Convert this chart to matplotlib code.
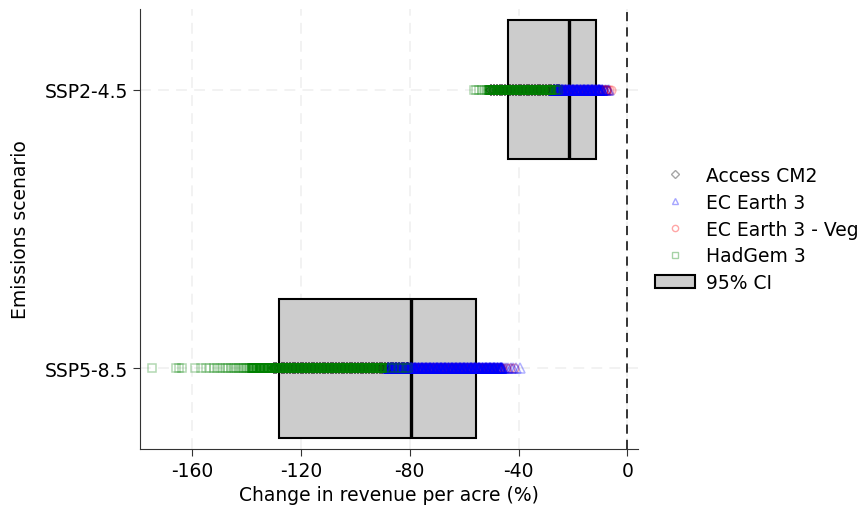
import matplotlib
matplotlib.use("Agg")
import numpy as np
import matplotlib.pyplot as plt
from matplotlib.lines import Line2D
from matplotlib.patches import Patch

plt.rcParams["axes.unicode_minus"] = False

scenarios = ["SSP5-8.5", "SSP2-4.5"]

# 95% CI and median per scenario (same order as scenarios)
ci_low = [-128.0, -44.0]
ci_high = [-55.8, -11.7]
ci_median = [-79.6, -21.3]

# model runs. "tail" = the few isolated runs,
# "core" = the crowded part, where each value stands for several runs
core_repeats = 4

# SSP5-8.5
access_ssp5_tail = []
access_ssp5_core = [-130, -129, -128, -127, -126, -125, -124, -123, -122, -121, -120, -119,
                    -118, -117, -116, -115, -114, -113, -112, -111, -110, -109, -108, -107,
                    -106, -105, -104, -103, -102, -101, -100, -99, -98, -97, -96, -95, -94,
                    -93, -92, -91, -90, -89, -88, -87, -86, -85, -84, -83, -82, -81, -80.5]
ecveg_ssp5_tail = [-46, -44.5, -43, -41.5]
ecveg_ssp5_core = [-85, -84, -83, -82, -81, -80, -79, -78, -77, -76, -75, -74, -73, -72, -71,
                   -70, -69, -68, -67, -66, -65, -64, -63, -62, -61, -60, -59, -58, -57, -56,
                   -55, -54, -53, -52, -51, -50, -49, -48, -47]
ecearth_ssp5_tail = [-45.5, -44.6, -43.8, -42.8, -42, -41, -39.4]
ecearth_ssp5_core = [-88, -87.5, -87, -86.5, -86, -85.5, -85, -84.5, -84, -83.5, -83, -82.5,
                     -82, -81.5, -81, -80.5, -80, -79.5, -79, -78.5, -78, -77.5, -77, -76.5,
                     -76, -75.5, -75, -74.5, -74, -73.5, -73, -72.5, -72, -71.5, -71, -70.5,
                     -70, -69.5, -69, -68.5, -68, -67.5, -67, -66.5, -66, -65.5, -65, -64.5,
                     -64, -63.5, -63, -62.5, -62, -61.5, -61, -60.5, -60, -59.5, -59, -58.5,
                     -58, -57.5, -57, -56.5, -56, -55.5, -55, -54.5, -54, -53.5, -53, -52.5,
                     -52, -51.5, -51, -50.5, -50, -49.5, -49, -48.5, -48, -47.5, -47, -46.5,
                     -46]
hadgem_ssp5_tail = [-174.5, -165.9, -164.8, -163.5, -158.8, -156.5, -154.8, -153.2, -151.9,
                    -150.6, -149.5, -148.4, -147.5, -146.6, -145.8, -145, -144.2, -143.5,
                    -142.8, -142.1, -141.4, -140.8, -140.2, -139.6, -139, -138.5,
                    -89, -87.2, -85.6, -84.1, -82.7, -81.5, -80.7]
hadgem_ssp5_core = [-138, -137.5, -137, -136.5, -136, -135.5, -135, -134.5, -134, -133.5, -133,
                    -132.5, -132, -131.5, -131, -130.5, -130, -129.5, -129, -128.5, -128,
                    -127.5, -127, -126.5, -126, -125.5, -125, -124.5, -124, -123.5, -123,
                    -122.5, -122, -121.5, -121, -120.5, -120, -119.5, -119, -118.5, -118,
                    -117.5, -117, -116.5, -116, -115.5, -115, -114.5, -114, -113.5, -113,
                    -112.5, -112, -111.5, -111, -110.5, -110, -109.5, -109, -108.5, -108,
                    -107.5, -107, -106.5, -106, -105.5, -105, -104.5, -104, -103.5, -103,
                    -102.5, -102, -101.5, -101, -100.5, -100, -99.5, -99, -98.5, -98, -97.5,
                    -97, -96.5, -96, -95.5, -95, -94.5, -94, -93.5, -93, -92.5, -92, -91.5,
                    -91, -90.5, -90]

# SSP2-4.5
access_ssp2_tail = []
access_ssp2_core = [-50, -49, -48, -47, -46, -45, -44, -43, -42, -41, -40, -39, -38, -37, -36,
                    -35, -34, -33, -32, -31, -30, -29, -28, -27, -26, -25]
ecveg_ssp2_tail = [-7.5, -6.8, -6.1]
ecveg_ssp2_core = [-25, -24, -23, -22, -21, -20, -19, -18, -17, -16, -15, -14, -13, -12, -11,
                   -10, -9, -8]
ecearth_ssp2_tail = [-9, -8.4, -7.8, -7.2, -6.7]
ecearth_ssp2_core = [-27, -26.5, -26, -25.5, -25, -24.5, -24, -23.5, -23, -22.5, -22, -21.5,
                     -21, -20.5, -20, -19.5, -19, -18.5, -18, -17.5, -17, -16.5, -16, -15.5,
                     -15, -14.5, -14, -13.5, -13, -12.5, -12, -11.5, -11, -10.5, -10, -9.5]
hadgem_ssp2_tail = [-56.5, -55.6, -54.4, -53.3, -52.4, -51.7, -27.6, -26.8, -26.1, -25.6]
hadgem_ssp2_core = [-51, -50.5, -50, -49.5, -49, -48.5, -48, -47.5, -47, -46.5, -46, -45.5, -45,
                    -44.5, -44, -43.5, -43, -42.5, -42, -41.5, -41, -40.5, -40, -39.5, -39,
                    -38.5, -38, -37.5, -37, -36.5, -36, -35.5, -35, -34.5, -34, -33.5, -33,
                    -32.5, -32, -31.5, -31, -30.5, -30, -29.5, -29, -28.5, -28]

# drawing order: grey first, green on top
models = [
    ("Access CM2", [(access_ssp5_tail, access_ssp5_core), (access_ssp2_tail, access_ssp2_core)],
     "black", "D", 5.4),
    ("EC Earth 3 - Veg", [(ecveg_ssp5_tail, ecveg_ssp5_core), (ecveg_ssp2_tail, ecveg_ssp2_core)],
     "red", "o", 6.2),
    ("EC Earth 3", [(ecearth_ssp5_tail, ecearth_ssp5_core), (ecearth_ssp2_tail, ecearth_ssp2_core)],
     "blue", "^", 6.6),
    ("HadGem 3", [(hadgem_ssp5_tail, hadgem_ssp5_core), (hadgem_ssp2_tail, hadgem_ssp2_core)],
     "green", "s", 5.2),
]

fig = plt.figure(figsize=(8.65, 5.1), dpi=100)
ax = fig.add_axes([0.162, 0.118, 0.576, 0.862])

ax.barh(range(len(scenarios)), np.array(ci_high) - np.array(ci_low), left=ci_low, height=0.5,
        color="#cccccc", edgecolor="black", linewidth=1.5, zorder=2)
for i, m in enumerate(ci_median):
    ax.vlines(m, i - 0.25, i + 0.25, color="black", linewidth=2.4, zorder=2.5)

for name, per_scen, col, mk, ms in models:
    for yi, (tail, core) in enumerate(per_scen):
        vals = np.concatenate([np.array(tail, dtype=float), np.repeat(core, core_repeats)])
        ax.plot(vals, np.full(len(vals), yi), linestyle="none", marker=mk, markersize=ms,
                markerfacecolor="none", markeredgecolor=col, markeredgewidth=1.1,
                alpha=0.3, zorder=3)

ax.axvline(0, color="black", linestyle=(0, (6, 4)), linewidth=1.1, zorder=1)

ax.set_xlim(-179, 4)
ax.set_ylim(-0.29, 1.29)
ax.set_xticks([-160, -120, -80, -40, 0])
ax.set_yticks(range(len(scenarios)))
ax.set_yticklabels(scenarios)
ax.tick_params(labelsize=13.5, direction="out", length=5, color="#333333")
ax.set_xlabel("Change in revenue per acre (%)", fontsize=13.5)
ax.set_ylabel("Emissions scenario", fontsize=13.5, labelpad=11)
ax.grid(True, color="#f1f1f1", linestyle=(0, (6, 4)), linewidth=1.3)
ax.set_axisbelow(True)
for s in ["top", "right"]:
    ax.spines[s].set_visible(False)
for s in ["left", "bottom"]:
    ax.spines[s].set_color("#333333")

handles = [
    Line2D([], [], linestyle="none", marker="D", markersize=4, markerfacecolor="none",
           markeredgecolor="black", alpha=0.35, label="Access CM2"),
    Line2D([], [], linestyle="none", marker="^", markersize=5, markerfacecolor="none",
           markeredgecolor="blue", alpha=0.35, label="EC Earth 3"),
    Line2D([], [], linestyle="none", marker="o", markersize=4.5, markerfacecolor="none",
           markeredgecolor="red", alpha=0.35, label="EC Earth 3 - Veg"),
    Line2D([], [], linestyle="none", marker="s", markersize=4.5, markerfacecolor="none",
           markeredgecolor="green", alpha=0.35, label="HadGem 3"),
    Patch(facecolor="#cccccc", edgecolor="black", linewidth=1.5, label="95% CI"),
]
ax.legend(handles=handles, loc="center left", bbox_to_anchor=(1.0, 0.5), frameon=False,
          fontsize=13.5, handlelength=2.1, handletextpad=0.6, labelspacing=0.42)

fig.savefig("out.png", dpi=100)
